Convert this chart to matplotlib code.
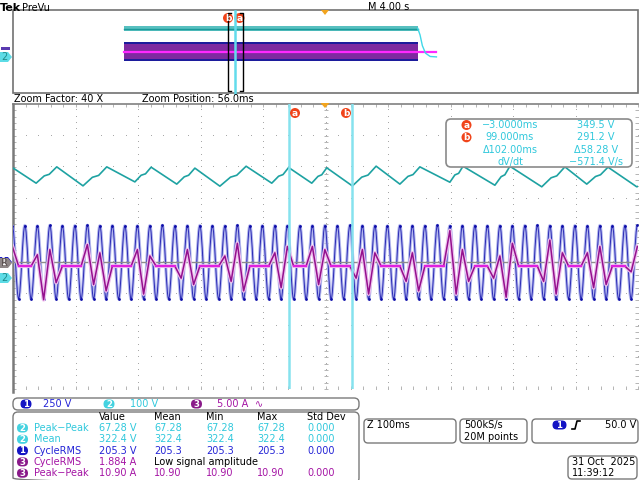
import numpy as np
import matplotlib
matplotlib.use("Agg")
import matplotlib.pyplot as plt
from matplotlib.path import Path
from matplotlib.patches import PathPatch, FancyBboxPatch, Polygon, Circle, Rectangle

# scope settings
ch1_scale = 250.0   # V/div
ch2_scale = 100.0   # V/div
ch3_scale = 5.0     # A/div
t_center = 56.0     # ms (zoom position)
t_div = 100.0       # ms/div (Z 100ms)

# ch2 (dc bus) vertices: ms, V
ch2_t = [-444, -407, -394, -386, -374, -332, -317, -307, -294, -249, -239, -232, -223,
         -182, -170, -163, -153, -113, -96, -86, -71, -30, -19, -12, -3, 34, 44, 50, 58,
         99, 114, 124, 137, 175, 188, 196, 207, 255, 263, 269, 276, 327, 337, 343, 351,
         402, 417, 426, 439, 474, 488, 496, 508, 554, 556]
ch2_v = [348, 300, 323, 328, 351.5, 291.5, 318.5, 324.5, 351.5, 304, 325, 329.5, 350.5,
         297, 320, 325, 347.5, 290.5, 319, 325, 353.5, 300, 322, 327, 349.5, 300, 321.5, 326.5, 348.5,
         291.2, 319, 325.5, 353.7, 297, 321.5, 327, 351.5, 303, 326, 331, 353.5, 293.5, 320.5, 326.5, 353.5,
         288.5, 317, 323, 351.5, 297, 321, 326.5, 350.5, 288.5, 290]

# ch1 mains voltage extrema, one every half cycle (10 ms) from -445 ms
ch1_t0 = -445.0
ch1_step = 10.0
ch1_ext = [288, -286, 290, -288, 287, -289, 291, -287, 288, -290,
           289, -288, 292, -287, 288, -289, 290, -288, 287, -290,
           288, -287, 289, -289, 291, -288, 287, -290, 289, -287,
           290, -288, 288, -289, 287, -288, 291, -290, 288, -287,
           289, -288, 290, -289, 288, -290, 287, -288, 289, -287,
           290, -289, 288, -288, 291, -287, 289, -290, 288, -288,
           287, -289, 290, -288, 289, -287, 288, -290, 291, -288,
           287, -289, 289, -288, 290, -287, 288, -290, 289, -288,
           288, -289, 290, -287, 291, -288, 289, -290, 288, -287,
           289, -288, 287, -289, 290, -288, 288, -290, 289, -287,
           291]

# ch3 line current at the same instants, A
ch3_base = -0.6
ch3_ext = [2.5, -0.6, -0.6, -0.6, 1.2, -5.9, 2.0, -3.2, -0.6, -0.6,
           -0.6, -0.6, 2.8, -3.5, 1.5, -4.5, -0.6, -0.6, -0.6, -0.6,
           2.0, -5.0, 1.0, -0.6, -0.6, -0.6, -0.6, -2.5, 2.0, -3.5,
           -0.6, -0.6, -0.6, -0.6, 1.0, -3.0, 3.0, -4.5, -0.6, -0.6,
           -0.6, -0.6, 1.5, -4.0, 2.5, -0.6, -0.6, -0.6, 2.5, -3.5,
           2.0, -0.6, -0.6, -0.6, -0.6, -2.5, 2.0, -5.0, 1.5, -0.6,
           -0.6, -0.6, -0.6, -3.0, 1.5, -4.5, -0.6, -0.6, -0.6, -0.6,
           5.0, -5.0, 2.0, -3.0, -0.6, -0.6, -0.6, -2.5, 1.0, -5.5,
           3.0, -0.6, -0.6, -0.6, -0.6, -3.0, 3.5, -5.0, 1.5, -0.6,
           -0.6, -0.6, 1.5, -4.0, 2.5, -3.5, -0.6, -0.6, -0.6, -1.5,
           2.5]

cursor_t = [-3.0, 99.0]
cursor_names = ["a", "b"]
readout_left = ["\u22123.0000ms", "99.000ms", "\u0394102.00ms", "dV/dt"]
readout_right = ["349.5 V", "291.2 V", "\u039458.28 V", "\u2212571.4 V/s"]

# PreVu overview of the 40 s record (s, V / A)
prev_t = [7.1, 25.9]
prev_ch2_lo = [292, 292]
prev_ch2_hi = [356, 356]
prev_ch1_pk = [290, 290]
prev_ch3_pk = [4.5, 4.5]
prev_tail_t = [25.9, 26.05, 26.2, 26.4, 26.7, 27.1]
prev_tail_v = [330, 250, 120, 30, -10, -15]
prev_base_t = [7.1, 27.1]
prev_ch3_base = [-0.6, -0.6]

# measurement table
meas_ch = [2, 2, 1, 3, 3]
meas_name = ["Peak\u2212Peak", "Mean", "CycleRMS", "CycleRMS", "Peak\u2212Peak"]
meas_value = ["67.28 V", "322.4 V", "205.3 V", "1.884 A", "10.90 A"]
meas_mean = ["67.28", "322.4", "205.3", "", "10.90"]
meas_min = ["67.28", "322.4", "205.3", "", "10.90"]
meas_max = ["67.28", "322.4", "205.3", "", "10.90"]
meas_std = ["0.000", "0.000", "0.000", "", "0.000"]

ch_text = {1: "#2424d6", 2: "#30c8dc", 3: "#a414a4"}
ch_fill = {1: "#1414c4", 2: "#44d2e0", 3: "#8a1a8a"}

W, H = 640, 480


def rect(x0, y0, x1, y1):
    return [x0 / W, 1 - y1 / H, (x1 - x0) / W, (y1 - y0) / H]


def clean(ax):
    ax.set_xticks([])
    ax.set_yticks([])
    for s in ax.spines.values():
        s.set_visible(False)
    ax.patch.set_alpha(0)


fig = plt.figure(figsize=(6.4, 4.8), dpi=100)
fig.patch.set_facecolor("white")

# ---------------- main zoom window ----------------
main = rect(13, 104, 638, 389)
g = fig.add_axes(main)
clean(g)
g.set_xlim(0, 10)
g.set_ylim(0, 9)
dot = "#a8a8a8"
tick = "#b4b4b4"
yy = np.arange(0, 46) / 5
xx = np.arange(0, 51) / 5
for i in range(1, 10):
    g.plot(np.full(len(yy), i), yy, ",", color=dot)
for j in range(1, 9):
    g.plot(xx, np.full(len(xx), j), ",", color=dot)
g.plot(np.full(len(yy), 5), yy, "_", ms=3, mew=0.7, color=tick)
g.plot(np.full(len(yy), 0.01), yy, "_", ms=3, mew=0.7, color=tick)
g.plot(np.full(len(yy), 9.99), yy, "_", ms=3, mew=0.7, color=tick)
g.plot(xx, np.full(len(xx), 8.97), "|", ms=2.5, mew=0.7, color=tick)
g.plot(xx, np.full(len(xx), 0.03), "|", ms=2.5, mew=0.7, color=tick)
g.plot([0, 10], [9, 9], color="#8a8a8a", lw=1.3, clip_on=False)
g.plot([0, 0], [-0.1, 9], color="#7a7a7a", lw=1.8, clip_on=False)

xlim = (t_center - 5 * t_div, t_center + 5 * t_div)

ax1 = fig.add_axes(main)
clean(ax1)
ax1.set_xlim(*xlim)
ax1.set_ylim(-4 * ch1_scale, 5 * ch1_scale)
ax1.axhline(0, color="#8c8c8c", lw=1)

ch1_t = ch1_t0 + ch1_step * np.arange(len(ch1_ext))
k = 1 - 2 / np.pi
verts = [(ch1_t[0], ch1_ext[0])]
codes = [Path.MOVETO]
for i in range(len(ch1_t) - 1):
    dt = ch1_t[i + 1] - ch1_t[i]
    verts += [(ch1_t[i] + k * dt, ch1_ext[i]), (ch1_t[i + 1] - k * dt, ch1_ext[i + 1]),
              (ch1_t[i + 1], ch1_ext[i + 1])]
    codes += [Path.CURVE4] * 3
ch1_path = Path(verts, codes)
ax1.add_patch(PathPatch(ch1_path, fill=False, ec="#b2b6ee", lw=2.2))
ax1.add_patch(PathPatch(ch1_path, fill=False, ec="#2a2ab4", lw=0.7))
ax1.plot(ch1_t, ch1_ext, "o", ms=2.0, color="#0c0ca8", mec="none")

ax3 = fig.add_axes(main)
clean(ax3)
ax3.set_xlim(*xlim)
ax3.set_ylim(-4 * ch3_scale, 5 * ch3_scale)
ch3 = np.array(ch3_ext)
flat = np.ma.masked_where(np.abs(ch3 - ch3_base) > 0.01, ch3)
ax3.plot(ch1_t, ch3, color="#eec0ee", lw=2.8)
ax3.plot(ch1_t, ch3, color="#94108e", lw=1.1)
ax3.plot(ch1_t, flat, color="#e020e0", lw=1.6)

ax2 = fig.add_axes(main)
clean(ax2)
ax2.set_xlim(*xlim)
ax2.set_ylim(-3.5 * ch2_scale, 5.5 * ch2_scale)
ax2.plot(ch2_t, ch2_v, color="#1ea2a2", lw=1.2)
for t in cursor_t:
    ax2.axvline(t, color="#86e2ee", lw=1.8)

# ---------------- PreVu ----------------
pv = fig.add_axes(rect(13, 10, 638, 93))
clean(pv)
pv.set_xlim(0, 40)
pv.set_ylim(-5, 5)
pv.fill_between(prev_t, np.array(prev_ch1_pk) / -ch1_scale, np.array(prev_ch1_pk) / ch1_scale,
                color="#1c1c9c", lw=0)
pv.fill_between(prev_t, np.array(prev_ch3_pk) / -ch3_scale, np.array(prev_ch3_pk) / ch3_scale,
                color="#7e2aa0", lw=0)
pv.plot(prev_base_t, np.array(prev_ch3_base) / ch3_scale, color="#ff28ff", lw=1.6)
pv.fill_between(prev_t, np.array(prev_ch2_lo) / ch2_scale - 0.5, np.array(prev_ch2_hi) / ch2_scale - 0.5,
                color="#58c0c0", lw=0)
pv.plot(prev_t, [3.22 - 0.5, 3.22 - 0.5], color="#1a9a9a", lw=1)
pv.plot(prev_tail_t, np.array(prev_tail_v) / ch2_scale - 0.5, color="#40d8e8", lw=1)

# ---------------- overlay: text and chrome ----------------
ov = fig.add_axes([0, 0, 1, 1])
ov.set_xlim(0, W)
ov.set_ylim(H, 0)
ov.axis("off")
ov.patch.set_alpha(0)


def txt(x, y, s, c="black", ha="left", size=7, weight="normal"):
    ov.text(x, y, s, color=c, ha=ha, va="center", fontsize=size, fontweight=weight,
            family="DejaVu Sans")


def rbox(x0, y0, x1, y1, ec="#7a7a7a", lw=1.0, r=4, fc="none"):
    ov.add_patch(FancyBboxPatch((x0, y0), x1 - x0, y1 - y0,
                                boxstyle=f"round,pad=0,rounding_size={r}",
                                fc=fc, ec=ec, lw=lw))


def badge(x, y, s, fc, w=11):
    ov.add_patch(FancyBboxPatch((x - w / 2, y - 4.5), w, 9,
                                boxstyle="round,pad=0,rounding_size=4.5", fc=fc, ec="none"))
    ov.text(x, y + 0.3, s, color="white", ha="center", va="center", fontsize=6.2,
            fontweight="bold")


def label(x, y, s):
    ov.add_patch(Circle((x, y), 5, fc="#f0441a", ec="none"))
    ov.text(x, y + 0.3, s, color="white", ha="center", va="center", fontsize=6.5,
            fontweight="bold")


def marker(y, fc, s, tc):
    ov.add_patch(Polygon([(0, y - 5), (8, y - 5), (12, y), (8, y + 5), (0, y + 5)],
                         closed=True, fc=fc, ec="none"))
    ov.text(4.5, y + 0.4, s, color=tc, ha="center", va="center", fontsize=7)


txt(0, 8, "Tek", size=8, weight="bold")
txt(22, 8, "PreVu")
txt(368, 7, "M 4.00 s")
ov.add_patch(Rectangle((13, 10), 625, 83, fc="none", ec="#727272", lw=1.2))
ov.add_patch(Polygon([(321, 10), (329, 10), (325, 15)], fc="#f2a41e", ec="none"))

# zoom bracket in PreVu
ov.plot([235, 235], [11, 93], color="#62dcec", lw=1.8)
ov.plot([230.5, 227.5, 227.5, 230.5], [13, 13, 91, 91], color="black", lw=1)
ov.plot([239.5, 242.5, 242.5, 239.5], [13, 13, 91, 91], color="black", lw=1)
label(228, 18, "b")
label(239.5, 18, "a")

ov.add_patch(Rectangle((1, 47), 9, 2.5, fc="#5a3ab0", ec="none"))
marker(57, "#5cdce6", "2", "#1f8a8a")

txt(14, 99.5, "Zoom Factor: 40 X")
txt(142, 99.5, "Zoom Position: 56.0ms")
ov.add_patch(Polygon([(320.5, 103), (329.5, 103), (325, 108)], fc="#f2a41e", ec="none"))
label(295, 113, "a")
label(346, 113, "b")

marker(262, "#1c1cc4", "1", "white")
marker(263, "#8e8686", "R", "#5a5050")
marker(278, "#5cdce6", "2", "#1f8a8a")

# cursor readout
rbox(446, 119, 632, 167, ec="#8a8a8a", lw=1.2, r=5, fc="white")
cy = "#30c8dc"
for i, (l, r) in enumerate(zip(readout_left, readout_right)):
    y = 125 + 12.3 * i
    if i < 2:
        label(466.5, y, cursor_names[i])
    txt(510, y, l, c=cy, ha="center")
    txt(596, y, r, c=cy, ha="center")

# channel scale strip
rbox(13, 398, 359, 410, r=5)
badge(26, 404, "1", ch_fill[1])
txt(43, 404, "250 V", c=ch_text[1])
badge(109, 404, "2", ch_fill[2])
txt(130, 404, "100 V", c=ch_text[2])
badge(196.5, 404, "3", ch_fill[3])
txt(217, 404, "5.00 A", c=ch_text[3])
txt(255, 404, "\u223f", c=ch_text[3])

# measurements
rbox(13, 412, 359, 483, r=5)
for x, s in zip([99, 154, 206, 257, 307], ["Value", "Mean", "Min", "Max", "Std Dev"]):
    txt(x, 417, s)
for i in range(len(meas_ch)):
    y = 428 + 11.3 * i
    c = ch_text[meas_ch[i]]
    badge(22.5, y, str(meas_ch[i]), ch_fill[meas_ch[i]])
    txt(34, y, meas_name[i], c=c)
    txt(99, y, meas_value[i], c=c)
    if meas_mean[i] == "":
        txt(154, y, "Low signal amplitude")
        continue
    txt(154, y, meas_mean[i], c=c)
    txt(206, y, meas_min[i], c=c)
    txt(257, y, meas_max[i], c=c)
    txt(307, y, meas_std[i], c=c)

# timebase / acquisition / trigger / date
rbox(364, 419, 456, 443, r=4)
txt(367, 425, "Z 100ms")
rbox(460, 419, 527, 443, r=4)
txt(464, 425, "500kS/s")
txt(464, 437, "20M points")
rbox(532, 419, 638, 443, r=4)
badge(559.5, 425, "1", ch_fill[1], w=14)
ov.plot([572, 575, 577, 580], [429, 429, 421, 421], color="black", lw=1.2)
txt(636, 425, "50.0 V", ha="right")
rbox(568, 456, 637, 479, r=4)
txt(572, 462, "31 Oct  2025")
txt(572, 473, "11:39:12")

fig.savefig("out.png", dpi=100, facecolor="white")
